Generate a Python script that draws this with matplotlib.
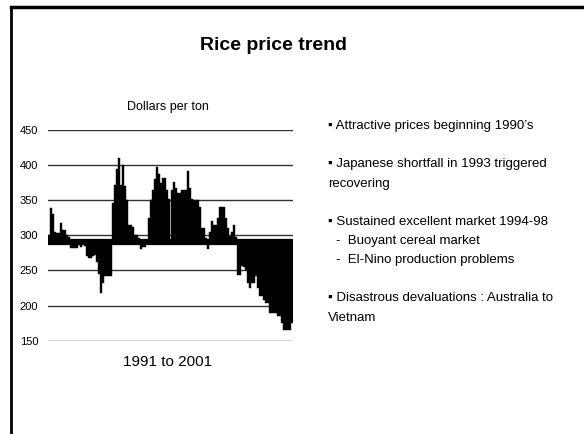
import matplotlib
matplotlib.use("Agg")
import matplotlib.pyplot as plt
from matplotlib.lines import Line2D
import numpy as np

# monthly rice price, dollars per ton, 1991 to early 2001
prices = [
    300, 339, 330, 305, 303, 304, 318, 308, 308, 300, 298, 282,
    282, 282, 282, 286, 284, 287, 285, 270, 268, 268, 270, 272,
    262, 245, 218, 232, 242, 242, 242, 242, 346, 372, 395, 410,
    372, 400, 370, 350, 315, 315, 312, 301, 300, 296, 281, 284,
    284, 288, 325, 350, 365, 380, 398, 388, 375, 381, 381, 365,
    352, 365, 376, 368, 360, 360, 365, 365, 365, 391, 368, 352,
    351, 351, 351, 340, 310, 310, 296, 280, 305, 320, 315, 315,
    325, 341, 341, 341, 325, 310, 299, 305, 315, 298, 244, 244,
    256, 255, 250, 232, 225, 232, 232, 242, 225, 213, 213, 208,
    204, 204, 189, 189, 190, 190, 185, 185, 175, 165, 165, 165,
    165, 175,
]
baseline = 290
yticks = [150, 200, 250, 300, 350, 400, 450]

title = "Rice price trend"
unit_label = "Dollars per ton"
period_label = "1991 to 2001"
bullets = [
    ("\u25aa Attractive prices beginning 1990\u2019s", 0),
    ("\u25aa Japanese shortfall in 1993 triggered", 0),
    ("recovering", 0),
    ("\u25aa Sustained excellent market 1994-98", 0),
    ("-  Buoyant cereal market", 1),
    ("-  El-Nino production problems", 1),
    ("\u25aa Disastrous devaluations : Australia to", 0),
    ("Vietnam", 0),
]
bullet_y = [126, 164, 184, 222, 241, 260, 298, 318]

font = ["Liberation Sans", "DejaVu Sans"]
W, H = 584, 434

fig = plt.figure(figsize=(W / 100, H / 100), dpi=100)

# slide frame (left and top edges)
fig.add_artist(Line2D([11 / W, 11 / W], [0, 1 - 6.5 / H], color="black", lw=2))
fig.add_artist(Line2D([11 / W, 1], [1 - 6.5 / H, 1 - 6.5 / H], color="black", lw=2.5))

fig.text(273 / W, 1 - 46 / H, title, ha="center", va="center",
         fontsize=14, fontweight="bold", family=font)

ax = fig.add_axes([48 / W, 1 - 340.7 / H, 245 / W, (340.7 - 130) / H])
x = np.arange(len(prices))
vals = np.array(prices)
ax.bar(x, vals - baseline, bottom=baseline, width=1.0, color="black",
       edgecolor="black", linewidth=0.3, zorder=3)
ax.axhline(baseline, color="black", lw=4.5, zorder=4)
for t in yticks:
    ax.axhline(t, color="#333333", lw=1.0, zorder=1)

ax.set_xlim(-0.5, len(prices) - 0.5)
ax.set_ylim(150, 450)
ax.set_yticks(yticks)
ax.set_yticklabels([str(t) for t in yticks], family=font, fontsize=8)
ax.tick_params(axis="y", length=0, pad=7)
ax.set_xticks([])
for s in ax.spines.values():
    s.set_visible(False)

fig.text(168 / W, 1 - 107 / H, unit_label, ha="center", va="center",
         family=font, fontsize=9)
fig.text(168 / W, 1 - 362 / H, period_label, ha="center", va="center",
         family=font, fontsize=11)

for (txt, lvl), yy in zip(bullets, bullet_y):
    xx = 328 if lvl == 0 else 336
    fig.text(xx / W, 1 - yy / H, txt, ha="left", va="center",
             family=font, fontsize=9.5)

fig.savefig("out.png", dpi=100)
